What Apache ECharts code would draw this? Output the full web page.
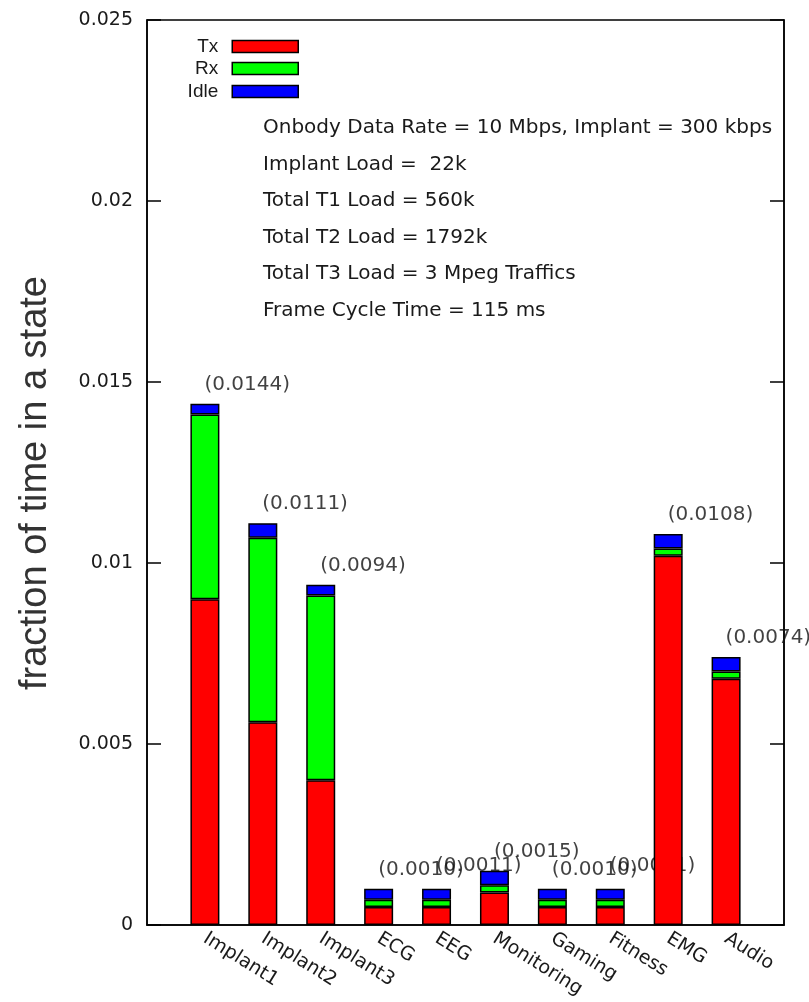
<!DOCTYPE html>
<html>
<head>
<meta charset="utf-8">
<title>fraction of time in a state</title>
<script src="https://cdn.jsdelivr.net/npm/echarts@6/dist/echarts.min.js"></script>
<style>
  html, body { margin: 0; padding: 0; background: #fff; }
  #chart { width: 809px; height: 1002px; }
</style>
</head>
<body>
<div id="chart"></div>
<script>
// categories along the x axis (blank slots pad both ends like the original)
const categories = ['Implant1', 'Implant2', 'Implant3', 'ECG', 'EEG', 'Monitoring', 'Gaming', 'Fitness', 'EMG', 'Audio']

// stacked parts
const txData   = [0.0090, 0.0056, 0.0040, 0.0005, 0.0005, 0.0009, 0.0005, 0.0005, 0.0102, 0.0068]
const rxData   = [0.0051, 0.0051, 0.0051, 0.0002, 0.0002, 0.0002, 0.0002, 0.0002, 0.0002, 0.0002]
const idleData = [0.0003, 0.0004, 0.0003, 0.0003, 0.0003, 0.0004, 0.0003, 0.0003, 0.0004, 0.0004]

// printed totals above the bars
const totals = [0.0144, 0.0111, 0.0094, 0.0010, 0.0011, 0.0015, 0.0010, 0.0011, 0.0108, 0.0074]

const yTicks = [0, 0.005, 0.01, 0.015, 0.02, 0.025]

const notes = [
  'Onbody Data Rate = 10 Mbps, Implant = 300 kbps',
  'Implant Load =  22k',
  'Total T1 Load = 560k',
  'Total T2 Load = 1792k',
  'Total T3 Load = 3 Mpeg Traffics',
  'Frame Cycle Time = 115 ms'
]

const textColor = '#1a1a1a'
const font = 'DejaVu Sans'

const toPoints = arr => arr.map((v, i) => [categories[i], v])

const barSeries = (name, color, arr) => ({
  name: name,
  type: 'bar',
  stack: 'all',
  z: 3,
  barWidth: 29,
  data: toPoints(arr),
  itemStyle: {color: color, borderColor: '#000', borderWidth: 1.5},
  emphasis: {disabled: true}
})

const legendFor = (name, top) => ({
  data: [name],
  orient: 'vertical',
  align: 'right',
  right: 809 - 299,
  top: top,
  padding: 0,
  itemWidth: 66,
  itemHeight: 12,
  icon: 'rect',
  itemStyle: {borderColor: '#000', borderWidth: 1.5},
  textStyle: {fontFamily: 'Liberation Sans', fontSize: 19, color: textColor, padding: [0, 9, 0, 0]}
})

const chart = echarts.init(document.getElementById('chart'), null, {renderer: 'canvas'})

const yAxisBase = {
  type: 'value',
  min: yTicks[0],
  max: yTicks[yTicks.length - 1],
  interval: 0.005,
  axisLine: {show: true, onZero: false, lineStyle: {color: '#000', width: 1.5}},
  axisTick: {show: true, inside: true, length: 14, lineStyle: {color: '#000', width: 1.5}},
  splitLine: {show: false}
}

chart.setOption({
  animation: false,
  backgroundColor: '#fff',
  grid: {
    left: 147, right: 25, top: 20, bottom: 77,
    show: true, borderColor: '#000', borderWidth: 1.5
  },
  legend: [
    legendFor('Tx', 37),
    legendFor('Rx', 59),
    legendFor('Idle', 82)
  ],
  xAxis: {
    type: 'category',
    data: [''].concat(categories, ['']),
    boundaryGap: false,
    axisLine: {show: true, onZero: false, lineStyle: {color: '#000', width: 1.5}},
    axisTick: {show: false},
    splitLine: {show: false},
    axisLabel: {
      interval: 0,
      rotate: -32,
      margin: 12,
      fontFamily: font,
      fontSize: 19,
      color: textColor
    }
  },
  yAxis: [
    Object.assign({}, yAxisBase, {
      axisLabel: {margin: 14, fontFamily: font, fontSize: 19, color: textColor}
    }),
    Object.assign({}, yAxisBase, {
      position: 'right',
      axisLabel: {show: false}
    })
  ],
  series: [
    barSeries('Tx', '#ff0000', txData),
    barSeries('Rx', '#00ff00', rxData),
    barSeries('Idle', '#0000ff', idleData),
    {
      name: 'total',
      type: 'scatter',
      z: 1,
      symbol: 'rect',
      symbolSize: 1,
      itemStyle: {color: 'rgba(0,0,0,0)'},
      data: toPoints(totals),
      label: {
        show: true,
        position: 'right',
        distance: 0,
        offset: [-1, -19],
        fontFamily: font,
        fontSize: 20,
        color: '#111',
        formatter: p => '(' + p.value[1].toFixed(4) + ')'
      },
      emphasis: {disabled: true}
    }
  ],
  graphic: [
    {
      type: 'text',
      x: 36,
      y: 483,
      rotation: Math.PI / 2,
      style: {
        text: 'fraction of time in a state',
        font: '38px "Liberation Sans"',
        fill: '#333',
        align: 'center',
        verticalAlign: 'middle'
      }
    }
  ].concat(notes.map((t, i) => ({
    type: 'text',
    x: 263,
    y: 128 + i * 36.5,
    style: {
      text: t,
      font: '20px "' + font + '"',
      fill: textColor,
      align: 'left',
      verticalAlign: 'middle'
    }
  })))
})
</script>
</body>
</html>
